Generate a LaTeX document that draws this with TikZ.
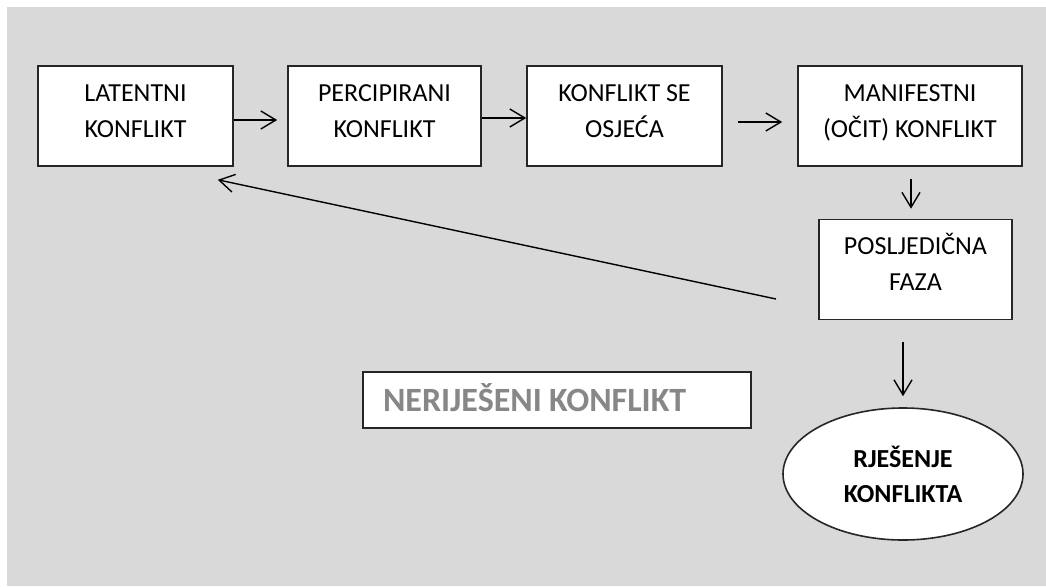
\documentclass[tikz,border=0pt]{standalone}
\usepackage{fontspec}
\setmainfont{Carlito}
\usetikzlibrary{arrows.meta}
\usetikzlibrary{shapes.geometric}
\definecolor{bggray}{RGB}{217,217,217}
\definecolor{txtgray}{RGB}{135,135,135}

\begin{document}
\begin{tikzpicture}[x=1pt,y=-1pt,>={Straight Barb[length=15pt,width=18pt]},line width=1.4pt,
 box/.style={rectangle,draw=black!85,fill=white,line width=1.6pt,minimum height=100pt,align=center,text height=42pt,text depth=0pt,font=\fontsize{26}{36}\selectfont},
 oval/.style={ellipse,draw=black!85,fill=white,line width=1.6pt,minimum width=240pt,minimum height=132pt,inner sep=0pt,align=center,font=\fontsize{26}{35}\selectfont\bfseries},
 ]

 \useasboundingbox (0,0) rectangle (1046,586);
 \fill[bggray] (7,7) rectangle (1046,586);

 \node[box,minimum width=195pt] (lat) at (135.5,116) {LATENTNI\\KONFLIKT};
 \node[box,minimum width=193pt] (perc) at (384.5,116) {PERCIPIRANI\\KONFLIKT};
 \node[box,minimum width=195pt] (osj) at (624.5,116) {KONFLIKT SE\\OSJEĆA};
 \node[box,minimum width=224pt] (man) at (910,116) {MANIFESTNI\\(OČIT) KONFLIKT};
 \node[box,minimum width=193pt] (posl) at (915.5,269.5) {POSLJEDIČNA\\FAZA};
 \node[box,minimum height=56pt,text height=22pt,text depth=0pt,text width=348pt,inner xsep=20pt,align=left,font=\fontsize{34}{40}\selectfont\bfseries,text=txtgray] (ner) at (557,400) {NERIJEŠENI\hspace{-4pt} KONFLIKT};
 \node[oval] (rje) at (903,474) {RJEŠENJE\\KONFLIKTA};

 \coordinate (back) at (776,299);

 \draw[->] ([yshift=-4pt]lat.east) -- ([yshift=-4pt,xshift=-10pt]perc.west);
 \draw[->] ([yshift=-2pt]perc.east) -- ([yshift=-2pt]osj.west);
 \draw[->] ([yshift=-6pt,xshift=15pt]osj.east) -- ([yshift=-6pt,xshift=-15pt]man.west);
 \draw[->] ([yshift=-12pt,xshift=1pt]man.south) -- ([yshift=10pt,xshift=-4.5pt]posl.north);
 \draw[->] ([yshift=-22pt,xshift=-12.5pt]posl.south) -- ([yshift=11pt]rje.north);
 \draw[->] (back) -- ([shift={(-16,13)}]lat.south east);

\end{tikzpicture}
\end{document}
